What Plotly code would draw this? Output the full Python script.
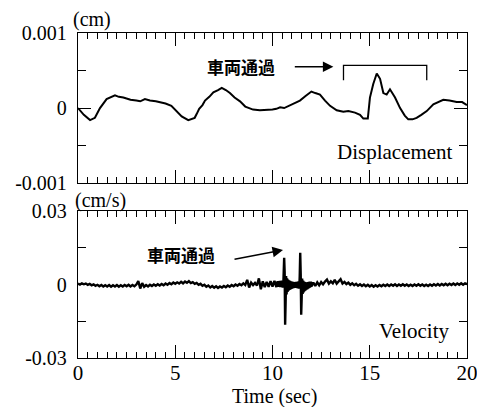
import plotly.graph_objects as go

# ---------------- data ----------------
disp_t = [0.0, 0.3, 0.62, 0.87, 1.13, 1.47, 1.9, 2.1, 2.33, 2.7, 3.0, 3.2, 3.44, 3.7, 4.0,
          4.2, 4.5, 4.8, 5.05, 5.33, 5.67, 6.0, 6.1, 6.23, 6.4, 6.53, 6.75, 6.96, 7.2, 7.39,
          7.6, 7.81, 8.05, 8.33, 8.6, 9.0, 9.35, 9.7, 10.0, 10.2, 10.39, 10.6, 10.9, 11.15,
          11.41, 11.7, 12.0, 12.2, 12.44, 12.7, 12.96, 13.3, 13.64, 13.9, 14.24, 14.5, 14.67,
          14.9, 15.01, 15.18, 15.36, 15.53, 15.7, 15.87, 16.04, 16.3, 16.56, 16.8, 16.98,
          17.2, 17.41, 17.65, 17.93, 18.27, 18.5, 18.78, 19.1, 19.47, 19.75, 20.0]
disp_v = [0.0, -0.00009, -0.00016, -0.00013, 0.0, 0.00012, 0.00017, 0.00015, 0.00014,
          0.00011, 0.00010, 0.00009, 0.00012, 0.00010, 0.00009, 0.00008, 0.00006, 0.00003,
          -0.00004, -0.00011, -0.00016, -0.00013, -0.00008, -0.00001, 0.00004, 0.00010,
          0.00015, 0.00021, 0.00024, 0.00027, 0.00024, 0.00020, 0.00014, 0.00009, 0.00002,
          -0.00002, -0.00003, -0.00003, -0.00002, -0.00001, 0.00001, 0.0, 0.00004, 0.00007,
          0.00010, 0.00016, 0.00022, 0.00020, 0.00018, 0.00010, 0.00003, -0.00003, -0.00005,
          -0.00004, -0.00006, -0.00009, -0.00014, -0.00014, 0.00014, 0.00032, 0.00046,
          0.00039, 0.00020, 0.00018, 0.00025, 0.00014, 0.0, -0.00010, -0.00015, -0.00015,
          -0.00013, -0.00009, -0.00004, 0.00005, 0.00008, 0.00011, 0.00010, 0.00008, 0.00008,
          0.00004]

# velocity: 0.0-10.2 s every 0.1 s
vel_a = [0.0004, 0.0000, 0.0005, 0.0001, 0.0004, -0.0001, 0.0003, -0.0003, 0.0001, -0.0005,
         -0.0001, -0.0007, -0.0002, -0.0008, -0.0003, -0.0008, -0.0002, -0.0009, -0.0003, -0.0008,
         -0.0002, -0.0009, -0.0003, -0.0008, -0.0002, -0.0007, -0.0001, -0.0008, -0.0002, -0.0007,
         0.0000, 0.0014, -0.0016, 0.0006, -0.0009, -0.0002, -0.0008, -0.0001, -0.0006, 0.0000,
         -0.0005, 0.0001, -0.0004, 0.0002, -0.0003, 0.0004, -0.0001, 0.0006, 0.0001, 0.0008,
         0.0003, 0.0009, 0.0004, 0.0011, 0.0005, 0.0012, 0.0007, 0.0014, 0.0006, 0.0010,
         0.0003, 0.0007, -0.0001, 0.0003, -0.0005, -0.0001, -0.0009, -0.0004, -0.0012, -0.0006,
         -0.0013, -0.0007, -0.0014, -0.0008, -0.0012, -0.0006, -0.0011, -0.0004, -0.0009, -0.0002,
         -0.0007, 0.0000, -0.0005, 0.0002, -0.0003, 0.0005, -0.0002, 0.0019, -0.0012, 0.0008,
         -0.0002, 0.0007, -0.0004, 0.0025, -0.0019, 0.0013, -0.0010, 0.0011, -0.0009, 0.0014,
         -0.0008, 0.0015, -0.0011]
# velocity: 10.225-12.0 s every 0.025 s (vehicle passage)
vel_b = [0.0012, -0.0009, 0.0014, -0.0010, 0.0012, -0.0009, 0.0015, -0.0011, 0.0013, -0.0010,
         0.0016, -0.0012, 0.0014, -0.0013, 0.0025,
         0.0109, 0.0050, -0.0164, -0.0070, 0.0035, -0.0040, 0.0026, -0.0030, 0.0020, -0.0025,
         0.0017, -0.0022, 0.0015, -0.0020, 0.0013, -0.0018, 0.0012, -0.0016, 0.0011, -0.0015,
         0.0010, -0.0014, 0.0010, -0.0014, 0.0011, -0.0014, 0.0011, -0.0015, 0.0012, -0.0016,
         0.0013, -0.0017,
         0.0035, 0.0130, 0.0045, -0.0123, -0.0055, 0.0025, -0.0038, 0.0016, -0.0032, 0.0012,
         -0.0027, 0.0010, -0.0024, 0.0009, -0.0021, 0.0009, -0.0019, 0.0010, -0.0016, 0.0011,
         -0.0014, 0.0012, -0.0011, 0.0012, -0.0008]
# velocity: 12.1-20.0 s every 0.1 s
vel_c = [0.0008, -0.0006, 0.0009, -0.0003, 0.0010, 0.0001, 0.0012, 0.0020, 0.0004, 0.0013,
         0.0005, 0.0019, 0.0004, 0.0012, 0.0022, 0.0004, 0.0011, 0.0002, 0.0008, -0.0001,
         0.0005, -0.0003, 0.0003, -0.0005, 0.0001, -0.0006, 0.0000, -0.0007, -0.0001, -0.0008,
         -0.0002, -0.0009, -0.0003, -0.0008, -0.0002, -0.0007, -0.0001, -0.0006, 0.0000, -0.0006,
         0.0000, -0.0005, 0.0001, -0.0006, 0.0000, -0.0005, 0.0001, -0.0005, 0.0000, -0.0006,
         -0.0001, -0.0006, 0.0000, -0.0005, 0.0001, -0.0005, 0.0000, -0.0006, -0.0001, -0.0006,
         0.0000, -0.0005, 0.0001, -0.0004, 0.0002, -0.0004, 0.0002, -0.0003, 0.0003, -0.0003,
         0.0003, -0.0002, 0.0004, -0.0002, 0.0004, -0.0001, 0.0005, -0.0001, 0.0005, 0.0002]

vel_t = ([round(0.1 * i, 3) for i in range(len(vel_a))]
         + [round(10.225 + 0.025 * i, 3) for i in range(len(vel_b))]
         + [round(12.1 + 0.1 * i, 3) for i in range(len(vel_c))])
vel_v = vel_a + vel_b + vel_c

x_ticks = [0, 5, 10, 15, 20]
disp_ticks = [-0.001, 0, 0.001]
disp_ticktext = ["-0.001", "0", "0.001"]
vel_ticks = [-0.03, 0, 0.03]
vel_ticktext = ["-0.03", "0", "0.03"]

SERIF = "Liberation Serif, Times New Roman, serif"
CJK = "Noto Sans CJK JP"

fig = go.Figure()
fig.add_trace(go.Scatter(x=disp_t, y=disp_v, mode="lines",
                         line=dict(color="black", width=2), xaxis="x", yaxis="y",
                         showlegend=False, hoverinfo="skip"))
fig.add_trace(go.Scatter(x=vel_t, y=vel_v, mode="lines",
                         line=dict(color="black", width=2.4), xaxis="x2", yaxis="y2",
                         showlegend=False, hoverinfo="skip"))

xcommon = dict(range=[0, 20], tickmode="array", tickvals=x_ticks, ticks="inside",
               ticklen=13, tickwidth=1, tickcolor="black", showline=True, linecolor="black",
               linewidth=1.3, mirror="ticks", showgrid=False, zeroline=False, automargin=False,
               minor=dict(dtick=0.5, tick0=0, ticks="inside", ticklen=6, tickwidth=1,
                          tickcolor="black", showgrid=False))
ycommon = dict(tickmode="array", ticks="inside", ticklen=13, tickwidth=1, tickcolor="black",
               showline=True, linecolor="black", linewidth=1.3, mirror="ticks",
               showgrid=False, zeroline=False, ticklabelstandoff=6, automargin=False,
               tickfont=dict(family=SERIF, size=20, color="black"))

# page body adds an 8px offset, so the figure is 8px smaller and margins shifted
fig.update_layout(
    width=477, height=399,
    margin=dict(l=70, r=18, t=25, b=49),
    paper_bgcolor="white", plot_bgcolor="white",
    xaxis=dict(xcommon, anchor="y", showticklabels=False),
    yaxis=dict(ycommon, anchor="x", domain=[0.538, 1.0], range=[-0.001, 0.001],
               tickvals=disp_ticks, ticktext=disp_ticktext,
               minor=dict(tickmode="array", tickvals=[-0.0005, 0.0005], ticks="inside",
                          ticklen=8, tickwidth=1, tickcolor="black", showgrid=False)),
    xaxis2=dict(xcommon, anchor="y2", showticklabels=True, ticklabelstandoff=-4,
                tickfont=dict(family=SERIF, size=21, color="black")),
    yaxis2=dict(ycommon, anchor="x2", domain=[0.0, 0.452], range=[-0.03, 0.03],
                tickvals=vel_ticks, ticktext=vel_ticktext,
                minor=dict(tickmode="array", tickvals=[-0.015, 0.015], ticks="inside",
                           ticklen=8, tickwidth=1, tickcolor="black", showgrid=False)),
)

# axis title
fig.add_annotation(text="Time (sec)", xref="paper", yref="paper", x=0.506, y=-0.118,
                   xanchor="center", yanchor="middle",
                   showarrow=False, font=dict(family=SERIF, size=20, color="black"))

# unit labels
fig.add_annotation(text="(cm)", xref="paper", yref="paper", x=0.037, y=1.04,
                   xanchor="center", yanchor="middle",
                   showarrow=False, font=dict(family=SERIF, size=20, color="black"))
fig.add_annotation(text="(cm/s)", xref="paper", yref="paper", x=0.058, y=0.484,
                   xanchor="center", yanchor="middle",
                   showarrow=False, font=dict(family=SERIF, size=20, color="black"))

# panel names
fig.add_annotation(text="Displacement", xref="x", yref="y", x=19.4, y=-0.00059,
                   xanchor="right", yanchor="middle", showarrow=False,
                   font=dict(family=SERIF, size=21, color="black"))
fig.add_annotation(text="Velocity", xref="x2", yref="y2", x=19.2, y=-0.0189,
                   xanchor="right", yanchor="middle", showarrow=False,
                   font=dict(family=SERIF, size=21, color="black"))

# vehicle passage labels and arrows
fig.add_annotation(text="<b>車両通過</b>", xref="x", yref="y", x=8.37, y=0.00055,
                   xanchor="center", yanchor="middle",
                   showarrow=False, font=dict(family=CJK, size=17, color="black"))
fig.add_annotation(x=13.13, y=0.00055, ax=11.07, ay=0.00055, xref="x", yref="y",
                   axref="x", ayref="y", text="", showarrow=True, arrowhead=2,
                   arrowsize=1.5, arrowwidth=1.4, arrowcolor="black")
fig.add_annotation(text="<b>車両通過</b>", xref="x2", yref="y2", x=5.29, y=0.0123,
                   xanchor="center", yanchor="middle",
                   showarrow=False, font=dict(family=CJK, size=17, color="black"))
fig.add_annotation(x=10.54, y=0.0141, ax=7.97, ay=0.0102, xref="x2", yref="y2",
                   axref="x2", ayref="y2", text="", showarrow=True, arrowhead=2,
                   arrowsize=1.5, arrowwidth=1.4, arrowcolor="black")

# bracket marking the passage interval
fig.add_shape(type="path", xref="x", yref="y",
              path="M 13.65,0.00037 L 13.65,0.00057 L 17.93,0.00057 L 17.93,0.00037",
              line=dict(color="black", width=1.3))

fig.write_html("out.html")
